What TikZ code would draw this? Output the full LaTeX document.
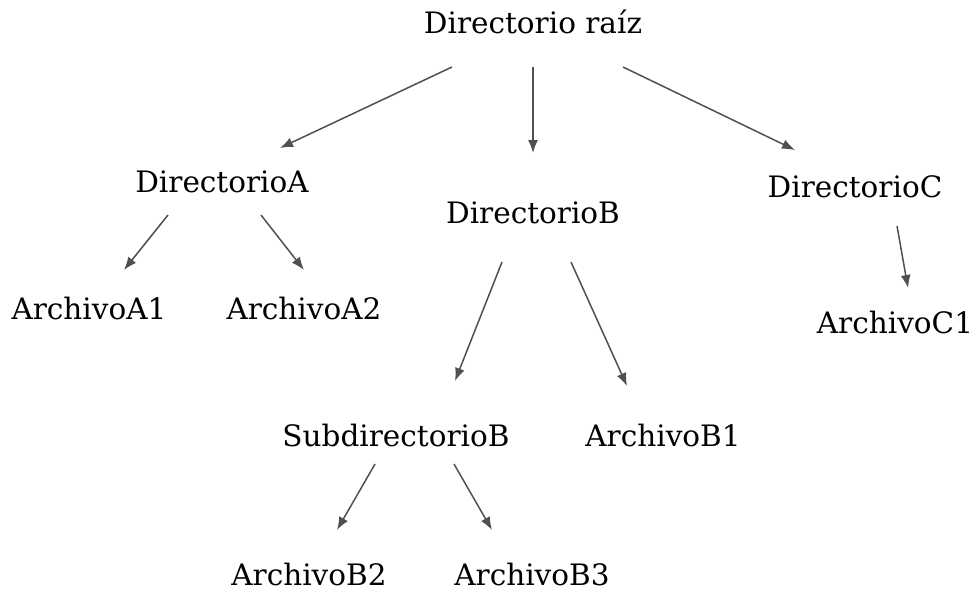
\documentclass[tikz,border=0pt]{standalone}
\usepackage{fontspec}
\setmainfont{DejaVu Serif}
\usetikzlibrary{arrows.meta}
\definecolor{edgegray}{RGB}{80,80,80}
\tikzset{
  item/.style={font=\fontsize{29.5}{34}\selectfont, inner sep=0pt},
  link/.style={-{Latex[length=13pt,width=10pt]}, draw=edgegray, fill=edgegray, line width=1.5pt},
}
\begin{document}
\begin{tikzpicture}[x=1pt,y=-1pt]
\useasboundingbox (0,0) rectangle (976,594);
% nodes
\node[item] (root) at (533,22) {Directorio raíz};
\node[item] (dA) at (222,182) {DirectorioA};
\node[item] (dB) at (533,213) {DirectorioB};
\node[item] (dC) at (855,187) {DirectorioC};
\node[item] (fA1) at (89,308) {ArchivoA1};
\node[item] (fA2) at (304,308) {ArchivoA2};
\node[item] (fC1) at (895,322) {ArchivoC1};
\node[item] (sB) at (396,435) {SubdirectorioB};
\node[item] (fB1) at (663,435) {ArchivoB1};
\node[item] (fB2) at (309,574) {ArchivoB2};
\node[item] (fB3) at (532,574) {ArchivoB3};
% links
\draw[link] ([shift={(-81,45)}]root.center) -- ([shift={(58,-34)}]dA.center);
\draw[link] ([shift={(0,45)}]root.center) -- ([shift={(0,-60)}]dB.center);
\draw[link] ([shift={(90,45)}]root.center) -- ([shift={(-60,-37)}]dC.center);
\draw[link] ([shift={(-54,33)}]dA.center) -- ([shift={(35,-38)}]fA1.center);
\draw[link] ([shift={(39,33)}]dA.center) -- ([shift={(0,-38)}]fA2.center);
\draw[link] ([shift={(-31,49)}]dB.center) -- ([shift={(59,-54)}]sB.center);
\draw[link] ([shift={(38,49)}]dB.center) -- ([shift={(-36,-49)}]fB1.center);
\draw[link] ([shift={(42,39)}]dC.center) -- ([shift={(13,-34)}]fC1.center);
\draw[link] ([shift={(-21,29)}]sB.center) -- ([shift={(28,-44)}]fB2.center);
\draw[link] ([shift={(58,29)}]sB.center) -- ([shift={(-40,-44)}]fB3.center);
\end{tikzpicture}
\end{document}
